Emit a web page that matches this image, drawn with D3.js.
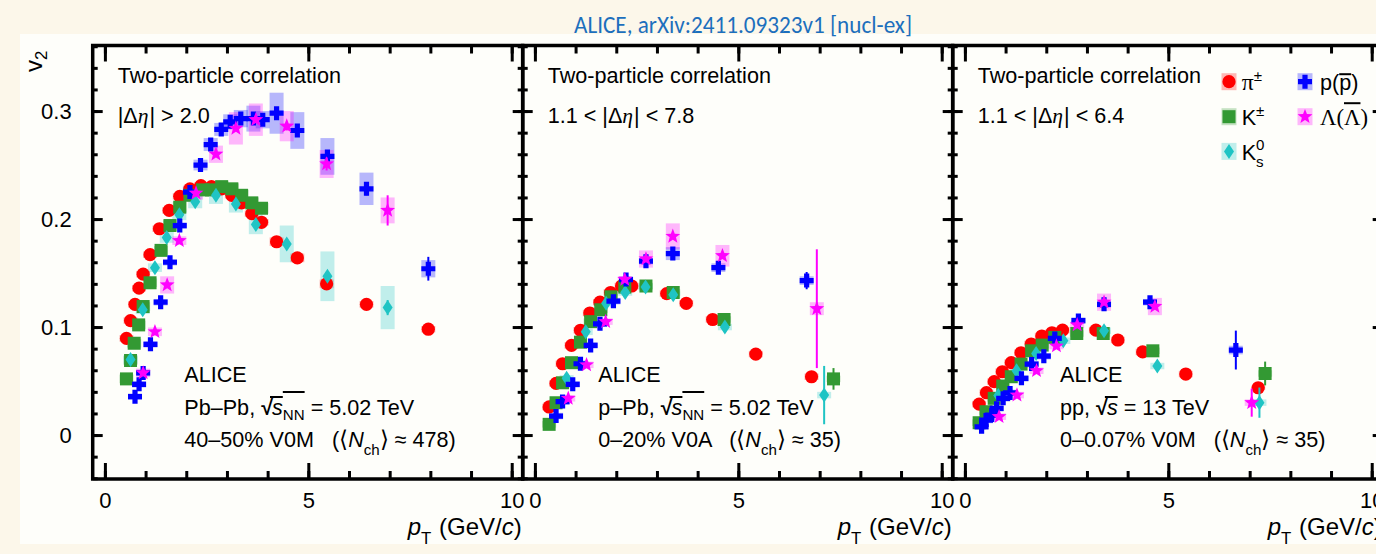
<!DOCTYPE html>
<html><head><meta charset="utf-8">
<script src="https://cdn.jsdelivr.net/npm/d3@7"></script>
<style>
html,body{margin:0;padding:0;background:#fcf7ea;}
svg{display:block;}
svg text{white-space:pre;}
</style></head><body>
<svg id="chart" width="1376" height="554"></svg>
<script>
// Each point: [pT (GeV/c), v2, systematic uncertainty, statistical uncertainty]
// Pb–Pb 5.02 TeV, 40–50% V0M
const pbpbPion = [[0.53,0.0895],[0.63,0.106],[0.74,0.121],[0.84,0.136],[0.94,0.149],[1.11,0.167],[1.34,0.191],[1.58,0.208],[1.84,0.221],[2.09,0.228],[2.36,0.231],[2.62,0.230],[2.87,0.228],[3.12,0.222],[3.36,0.215],[3.61,0.205],[3.85,0.197],[4.22,0.179,0.004],[4.73,0.164,0.004],[5.45,0.140,0.004,0.002],[6.43,0.121,0.003,0.003],[7.95,0.098,0.003,0.004]];
const pbpbKaon = [[0.53,0.052,0.004],[0.63,0.069,0.004],[0.72,0.085,0.004],[0.83,0.102,0.004],[0.94,0.119,0.004],[1.11,0.141,0.004],[1.38,0.171,0.004],[1.60,0.194,0.005],[1.84,0.211,0.005],[2.09,0.222,0.005],[2.40,0.227,0.005],[2.62,0.227,0.005],[2.87,0.230,0.005],[3.12,0.228,0.005],[3.36,0.222,0.005],[3.61,0.215,0.005],[3.85,0.210,0.005]];
const pbpbK0s = [[0.63,0.070,0.004],[0.93,0.116,0.004],[1.23,0.155,0.004],[1.52,0.183,0.005],[1.83,0.204,0.005],[2.22,0.216,0.006],[2.73,0.222,0.008,0.002],[3.22,0.214,0.008,0.002],[3.71,0.195,0.009,0.002],[4.47,0.177,0.017,0.003],[5.47,0.147,0.023,0.004],[6.95,0.118,0.020,0.007]];
const pbpbProton = [[0.74,0.0355],[0.84,0.047],[0.94,0.0575],[1.12,0.084],[1.37,0.123],[1.60,0.160],[1.84,0.194],[2.09,0.225,0.005],[2.35,0.250,0.005],[2.60,0.269,0.006],[2.86,0.283,0.006],[3.08,0.290,0.007],[3.34,0.293,0.008],[3.65,0.293,0.012],[3.88,0.292,0.008],[4.22,0.298,0.019,0.003],[4.73,0.282,0.017,0.004],[5.47,0.258,0.017,0.005],[6.43,0.228,0.015,0.006],[7.95,0.154,0.008,0.011]];
const pbpbLambda = [[0.94,0.0575,0.004],[1.23,0.0956,0.004],[1.53,0.139,0.008],[1.83,0.180,0.004],[2.24,0.224,0.006],[2.73,0.260,0.008],[3.22,0.284,0.015],[3.71,0.292,0.015],[4.47,0.286,0.014,0.004],[5.45,0.251,0.013,0.006],[6.95,0.208,0.012,0.014]];

// p–Pb 5.02 TeV, 0–20% V0A
const ppbPion = [[0.35,0.026],[0.52,0.0478],[0.68,0.066],[0.90,0.083],[1.12,0.097],[1.35,0.113],[1.60,0.123],[1.86,0.132],[2.13,0.138],[2.38,0.138],[3.24,0.131],[3.72,0.122],[4.37,0.107],[5.43,0.075],[6.80,0.054]];
const ppbKaon = [[0.35,0.0099],[0.52,0.0299],[0.68,0.0484],[0.90,0.067],[1.12,0.086],[1.37,0.105],[1.62,0.116],[1.87,0.128],[2.21,0.137],[2.73,0.138],[3.40,0.132],[4.65,0.107],[7.34,0.052,0.003,0.010]];
const ppbK0s = [[0.78,0.0525],[1.25,0.0956],[1.75,0.122],[2.22,0.132],[2.72,0.137],[3.40,0.130],[4.67,0.100],[7.11,0.037,0.003,0.027]];
const ppbProton = [[0.52,0.0176],[0.68,0.031],[0.93,0.047],[1.12,0.066],[1.37,0.083],[1.60,0.103],[1.93,0.124],[2.24,0.144],[2.73,0.161],[3.39,0.168,0.006],[4.51,0.155,0.004],[6.68,0.143,0.004,0.008]];
const ppbLambda = [[0.82,0.034],[1.27,0.065],[1.74,0.105],[2.21,0.144],[2.73,0.163,0.008],[3.39,0.184,0.012],[4.61,0.166,0.010],[6.93,0.117,0.006,0.055]];

// pp 13 TeV, 0–0.07% V0M
const ppPion = [[0.35,0.0287],[0.53,0.0392],[0.72,0.0494],[0.92,0.0586],[1.14,0.067],[1.38,0.0762],[1.63,0.0843],[1.89,0.0917],[2.14,0.0947],[2.40,0.0972],[3.22,0.0972],[3.76,0.088],[4.37,0.077],[5.43,0.0565],[7.21,0.0438,0.002,0.004]];
const ppKaon = [[0.35,0.0114],[0.52,0.0216],[0.72,0.034],[0.93,0.0454],[1.14,0.054],[1.38,0.0657],[1.64,0.078],[1.90,0.0833],[2.21,0.0904],[2.75,0.094],[3.40,0.094],[4.62,0.078],[7.38,0.057,0.003,0.011]];
const ppK0s = [[0.82,0.0366],[1.27,0.0595],[1.75,0.0756],[2.42,0.0873],[3.42,0.0966],[4.73,0.0639],[7.24,0.030,0.003,0.014]];
const ppProton = [[0.41,0.0077],[0.52,0.0139],[0.66,0.0185],[0.78,0.0247],[0.94,0.034],[1.11,0.039],[1.39,0.0525],[1.64,0.0657],[1.94,0.073],[2.21,0.0895],[2.79,0.106],[3.42,0.121],[4.55,0.123],[6.66,0.0787,0.004,0.018]];
const ppLambda = [[0.84,0.017],[1.28,0.037],[1.76,0.0595],[2.25,0.0824],[2.76,0.102],[3.42,0.123,0.008],[4.67,0.119,0.008],[7.05,0.030,0.003,0.013]];

// Species (drawing order), colours and marker shapes
const speciesKeys = ["pion","kaon","k0s","proton","lambda"];
const speciesColors = ["#ff0000","#339933","#1fc4c4","#0000ff","#ff00ff"];
const speciesShapes = ["circle","square","diamond","cross","star"];

// Panel contents
const panelSeries = [
  [pbpbPion, pbpbKaon, pbpbK0s, pbpbProton, pbpbLambda],
  [ppbPion, ppbKaon, ppbK0s, ppbProton, ppbLambda],
  [ppPion, ppKaon, ppK0s, ppProton, ppLambda]
];
const etaGapLabels = [["","2.0"],["1.1","7.8"],["1.1","6.4"]];
const systemLabels = ["Pb–Pb","p–Pb","pp"];
const energyLabels = ["5.02 TeV","5.02 TeV","13 TeV"];
const centralityLabels = ["40–50% V0M","0–20% V0A","0–0.07% V0M"];
const multiplicityLabels = ["478","35","35"];

const xTicksMajor = [0,5,10];
const xTicksMinor = d3.range(0,11,1);
const yTicksMajor = [0,0.1,0.2,0.3];
const yTicksMinor = d3.range(-0.04,0.361,0.02).map(v=>+v.toFixed(2));

const SANS = "'Liberation Sans', Arial, Helvetica, sans-serif";
const SERIF = "'Liberation Serif', 'Times New Roman', serif";

const svg = d3.select("#chart");

// background: cream page with a lighter plotting sheet
svg.append("rect").attr("x",0).attr("y",0).attr("width",1376).attr("height",554).attr("fill","#fcf7ea");
svg.append("rect").attr("x",20).attr("y",34).attr("width",1356).attr("height",510).attr("fill","#fefefa");

// header
svg.append("text").attr("x",743).attr("y",33).attr("text-anchor","middle")
  .attr("font-family","Carlito, Lato, 'Open Sans', sans-serif").attr("font-size",25)
  .attr("fill","#1c6fbd")
  .attr("textLength",338).attr("lengthAdjust","spacingAndGlyphs")
  .text("ALICE, arXiv:2411.09323v1 [nucl-ex]");

// Rich text: sequence of runs with italic / serif / sub-superscript / overline options
function rich(parent, x, y, runs, size, anchor) {
  const g = parent.append("g");
  let cx = 0;
  const overs = [];
  runs.forEach(r => {
    const fs = size * (r.scale || 1);
    const t = g.append("text").attr("x", cx).attr("y", r.dy || 0)
      .attr("font-size", fs)
      .attr("font-family", r.serif ? SERIF : SANS)
      .attr("font-style", r.italic ? "italic" : "normal")
      .attr("font-weight", r.bold ? "bold" : "normal")
      .attr("fill", "#000")
      .text(r.t);
    const w = t.node().getComputedTextLength();
    if (r.over) overs.push([cx + (r.overPad||0), cx + w, r.over]);
    if (!r.noAdv) cx += w + (r.kern || 0);
  });
  overs.forEach(o => {
    g.append("line").attr("x1", o[0]).attr("x2", o[1]).attr("y1", -o[2]).attr("y2", -o[2])
      .attr("stroke", "#000").attr("stroke-width", 2);
  });
  const shift = anchor === "end" ? -cx : 0;
  g.attr("transform", `translate(${x + shift},${y})`);
  return g;
}

// marker path generators
function markerPath(shape) {
  switch (shape) {
    case "square": return "M-6.5,-6.5H6.5V6.5H-6.5Z";
    case "diamond": return "M0,-7.5L5,0L0,7.5L-5,0Z";
    case "cross": { const a = 7, t = 2.6;
      return `M${-t},${-a}H${t}V${-t}H${a}V${t}H${t}V${a}H${-t}V${t}H${-a}V${-t}H${-t}Z`; }
    case "star": { const R = 7.8, r = 3.3; let p = "";
      for (let k = 0; k < 10; k++) {
        const ang = -Math.PI / 2 + k * Math.PI / 5, rr = k % 2 ? r : R;
        p += (k ? "L" : "M") + (rr * Math.cos(ang)).toFixed(2) + "," + (rr * Math.sin(ang)).toFixed(2);
      }
      return p + "Z"; }
    default: return d3.arc()({innerRadius:0, outerRadius:6.6, startAngle:0, endAngle:2*Math.PI});
  }
}

const yTop = 45.5, yBot = 479;
const y = d3.scaleLinear().domain([-0.0407, 0.3607]).range([yBot, yTop]);
const panelLeft0 = 92.7, panelStep = 430, panelW = 430;

function styleAxis(sel) {
  sel.select(".domain").remove();
  sel.selectAll(".tick line").attr("stroke", "#000").attr("stroke-width", 3);
  sel.selectAll(".tick text").attr("fill", "#000");
  sel.attr("font-family", SANS).attr("font-size", 22);
}

panelSeries.forEach((seriesList, pi) => {
  const L = panelLeft0 + pi * panelStep;
  const x = d3.scaleLinear().domain([-0.3, 10.27]).range([L, L + panelW]);
  const g = svg.append("g");

  // normalised points
  const series = seriesList.map(arr => arr.map(d => ({pt: d[0], v2: d[1], sys: d[2] ?? 0.003, stat: d[3] ?? 0.001})));

  // systematic boxes
  series.forEach((pts, si) => {
    g.append("g").selectAll("rect").data(pts).join("rect")
      .attr("x", d => x(d.pt) - 7).attr("width", 14)
      .attr("y", d => y(d.v2 + d.sys)).attr("height", d => y(d.v2 - d.sys) - y(d.v2 + d.sys))
      .attr("fill", speciesColors[si]).attr("fill-opacity", 0.28);
  });
  // statistical bars + markers
  series.forEach((pts, si) => {
    const sg = g.append("g");
    sg.selectAll("line").data(pts).join("line")
      .attr("x1", d => x(d.pt)).attr("x2", d => x(d.pt))
      .attr("y1", d => y(d.v2 + d.stat)).attr("y2", d => y(d.v2 - d.stat))
      .attr("stroke", speciesColors[si]).attr("stroke-width", 2);
    sg.selectAll("path").data(pts).join("path")
      .attr("transform", d => `translate(${x(d.pt)},${y(d.v2)})`)
      .attr("d", markerPath(speciesShapes[si]))
      .attr("fill", speciesColors[si]);
  });

  // axes: inward ticks on all four sides
  g.append("g").attr("transform", `translate(0,${yBot})`)
    .call(d3.axisBottom(x).tickValues(xTicksMinor).tickSize(-8).tickSizeOuter(0).tickFormat("")).call(styleAxis);
  g.append("g").attr("transform", `translate(0,${yBot})`)
    .call(d3.axisBottom(x).tickValues(xTicksMajor).tickSize(-16).tickSizeOuter(0).tickPadding(13).tickFormat(d3.format("d"))).call(styleAxis);
  g.append("g").attr("transform", `translate(0,${yTop})`)
    .call(d3.axisTop(x).tickValues(xTicksMinor).tickSize(-8).tickSizeOuter(0).tickFormat("")).call(styleAxis);
  g.append("g").attr("transform", `translate(0,${yTop})`)
    .call(d3.axisTop(x).tickValues(xTicksMajor).tickSize(-16).tickSizeOuter(0).tickFormat("")).call(styleAxis);
  g.append("g").attr("transform", `translate(${L},0)`)
    .call(d3.axisLeft(y).tickValues(yTicksMinor).tickSize(-5).tickSizeOuter(0).tickFormat("")).call(styleAxis);
  g.append("g").attr("transform", `translate(${L},0)`)
    .call(d3.axisLeft(y).tickValues(yTicksMajor).tickSize(-10).tickSizeOuter(0).tickPadding(21)
      .tickFormat(pi === 0 ? (d => d === 0 ? "0" : d.toFixed(1)) : "")).call(styleAxis);
  g.append("g").attr("transform", `translate(${L + panelW},0)`)
    .call(d3.axisRight(y).tickValues(yTicksMinor).tickSize(-5).tickSizeOuter(0).tickFormat("")).call(styleAxis);
  g.append("g").attr("transform", `translate(${L + panelW},0)`)
    .call(d3.axisRight(y).tickValues(yTicksMajor).tickSize(-10).tickSizeOuter(0).tickFormat("")).call(styleAxis);

  // frame
  g.append("rect").attr("x", L).attr("y", yTop).attr("width", panelW).attr("height", yBot - yTop)
    .attr("fill", "none").attr("stroke", "#000").attr("stroke-width", 3.5);

  // x-axis title
  rich(g, L + panelW - 1, 535, [
    {t:"p", italic:true}, {t:"T", scale:0.7, dy:9, kern:1}, {t:" (GeV/"}, {t:"c", italic:true}, {t:")"}
  ], 24, "end");

  // method and eta gap
  const tx = L + 25;
  rich(g, tx, 83, [{t:"Two-particle correlation"}], 21.6);
  const gap = etaGapLabels[pi];
  const gapRuns = gap[0] ? [{t: gap[0] + " < |Δ"}] : [{t:"|Δ"}];
  gapRuns.push({t:"η", italic:true, serif:true, kern:1});
  gapRuns.push({t:"| " + (gap[0] ? "<" : ">") + " " + gap[1]});
  rich(g, tx, 123, gapRuns, 21.6);

  // collision system block
  const bx = L + [91.6, 75.6, 107.3][pi];
  rich(g, bx, 382, [{t:"ALICE"}], 21.6);
  const sysRuns = [{t: systemLabels[pi] + ", "}, {t:"√", bold:true, kern:-1},
    {t:"s", italic:true, over:18, overPad:-2}];
  if (pi < 2) sysRuns.push({t:"NN", scale:0.7, dy:5, over:23});
  sysRuns.push({t:" = " + energyLabels[pi]});
  rich(g, bx, 415, sysRuns, 21.6);
  rich(g, bx, 447, [
    {t: centralityLabels[pi] + "   ("}, {t:"⟨", scale:1.05}, {t:"N", italic:true}, {t:"ch", scale:0.7, dy:8},
    {t:"⟩", scale:1.05}, {t:" ≈ " + multiplicityLabels[pi] + ")"}
  ], 21.6);
});

// y-axis title
rich(svg, 0, 0, [{t:"v"}, {t:"2", scale:0.7, dy:5}], 24).attr("transform", "translate(42,72) rotate(-90)");

// legend (inside the right-hand panel)
const legendPos = [[1229,81.7],[1229,116.7],[1229,151.4],[1305,81.7],[1305,116.7]];
const legendLabels = [
  [{t:"π", serif:true, scale:1.1}, {t:"±", scale:0.7, dy:-9}],
  [{t:"K"}, {t:"±", scale:0.7, dy:-9}],
  [{t:"K"}, {t:"0", scale:0.7, dy:-10, noAdv:true}, {t:"s", scale:0.7, dy:7}],
  [{t:"p("}, {t:"p", over:16}, {t:")"}],
  [{t:"Λ(", serif:true, scale:1.05}, {t:"Λ", serif:true, scale:1.05, over:22}, {t:")", serif:true, scale:1.05}]
];
const legend = svg.append("g");
speciesKeys.forEach((k, i) => {
  const [lx, ly] = legendPos[i];
  legend.append("rect").attr("x", lx - 7.5).attr("y", ly - 8.5).attr("width", 15).attr("height", 17)
    .attr("fill", speciesColors[i]).attr("fill-opacity", 0.28);
  legend.append("path").attr("transform", `translate(${lx},${ly})`).attr("d", markerPath(speciesShapes[i]))
    .attr("fill", speciesColors[i]);
  rich(legend, lx + (i < 3 ? 12.7 : 15), ly + 8.5, legendLabels[i], 21.6);
});
</script>
</body></html>
